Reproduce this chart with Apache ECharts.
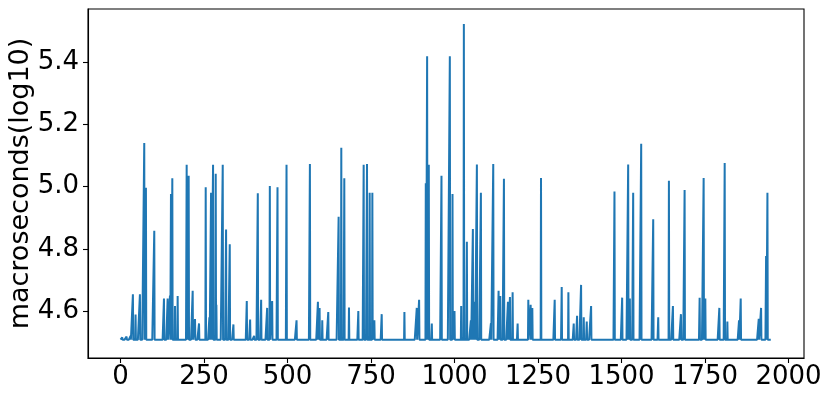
<!DOCTYPE html>
<html>
<head>
<meta charset="utf-8">
<script src="https://cdn.jsdelivr.net/npm/echarts@6/dist/echarts.min.js"></script>
<style>
  html, body { margin: 0; padding: 0; background: #fff; }
  #chart { width: 830px; height: 401px; }
</style>
</head>
<body>
<div id="chart"></div>
<script>
// sample count and flat level of the trace between spikes
var sampleCount = 1950;
var baseLevel = 4.508;

// spikes: sample index and value (log10)
var spikeX = [5, 18, 30, 37, 45, 58, 71, 76, 101, 130, 141, 148, 151, 155, 163, 171,
  198, 204, 216, 223, 235, 255, 266, 271, 277, 285, 287, 306, 316, 327, 338,
  378, 388, 400, 411, 421, 439, 447, 454, 470, 497, 527, 567, 591, 596, 604, 622,
  653, 661, 670, 684, 712, 728, 738, 746, 754, 760, 782, 850, 887, 894,
  914, 918, 923, 932, 961, 986, 994, 1000, 1020, 1028, 1037, 1049, 1055, 1061, 1067, 1079,
  1109, 1116, 1132, 1137, 1148, 1160, 1166, 1174, 1189, 1221, 1228, 1233, 1259,
  1300, 1321, 1341, 1357, 1367, 1379, 1387, 1396, 1409, 1479, 1502, 1520, 1525, 1535,
  1559, 1595, 1610, 1642, 1654, 1678, 1689, 1734, 1746, 1751, 1793, 1809, 1817,
  1852, 1857, 1911, 1918, 1933, 1937];
var spikeY = [4.515, 4.518, 4.52, 4.654, 4.589, 4.654, 5.14, 4.996, 4.858, 4.64, 4.64, 4.65, 4.976, 5.027, 4.616, 4.648,
  5.07, 5.035, 4.665, 4.574, 4.56, 4.998, 4.58, 4.98, 5.07, 5.041, 4.62, 5.07, 4.862, 4.815, 4.557,
  4.632, 4.573, 4.52, 4.979, 4.636, 4.61, 5.002, 4.632, 4.998, 5.07, 4.57, 5.073, 4.63, 4.61, 4.57, 4.597,
  4.903, 5.125, 5.027, 4.611, 4.6, 5.07, 5.073, 4.98, 4.98, 4.57, 4.59, 4.597, 4.61, 4.636,
  5.011, 5.419, 5.07, 4.56, 5.035, 5.419, 4.976, 4.6, 4.616, 5.523, 4.823, 4.57, 4.864, 4.63, 5.071, 4.98,
  4.56, 5.073, 4.665, 4.648, 5.025, 4.63, 4.645, 4.66, 4.56, 4.636, 4.62, 4.61, 5.028,
  4.636, 4.677, 4.66, 4.56, 4.585, 4.684, 4.58, 4.566, 4.616, 4.984, 4.643, 5.071, 4.64, 4.98,
  5.138, 4.895, 4.58, 5.019, 4.616, 4.59, 4.989, 4.643, 5.028, 4.64, 4.61, 5.076, 4.566,
  4.57, 4.64, 4.575, 4.61, 4.777, 4.98];

// axis ticks
var xTicks = [0, 250, 500, 750, 1000, 1250, 1500, 1750, 2000];
var yTicks = [4.6, 4.8, 5.0, 5.2, 5.4];

var spikeAt = {};
spikeX.forEach(function (x, i) { spikeAt[x] = spikeY[i]; });
var seriesData = [];
for (var i = 0; i < sampleCount; i++) {
  seriesData.push([i, spikeAt[i] !== undefined ? spikeAt[i] : baseLevel]);
}

var chart = echarts.init(document.getElementById('chart'), null, { renderer: 'canvas' });
var font = 'DejaVu Sans';
var option = {
  animation: false,
  grid: {
    left: 88, right: 26, top: 9, bottom: 43,
    containLabel: false,
    outerBoundsMode: 'none',
    show: true, borderColor: '#000', borderWidth: 1.1, backgroundColor: 'transparent'
  },
  xAxis: {
    type: 'value',
    min: -97.45,
    max: 2046.5,
    axisLine: { show: true, onZero: false, lineStyle: { color: '#000', width: 1.1 } },
    axisTick: { show: true, customValues: xTicks, length: 5, lineStyle: { color: '#000', width: 1.1 } },
    axisLabel: {
      customValues: xTicks, color: '#000', fontFamily: font, fontSize: 26, margin: 6,
      hideOverlap: false,
      formatter: function (v) { return String(v); }
    },
    splitLine: { show: false }
  },
  yAxis: {
    type: 'value',
    min: 4.449,
    max: 5.571,
    name: 'macroseconds(log10)',
    nameLocation: 'middle',
    nameRotate: 90,
    nameGap: 54,
    nameMoveOverlap: false,
    nameTextStyle: { color: '#000', fontFamily: font, fontSize: 27 },
    axisLine: { show: true, onZero: false, lineStyle: { color: '#000', width: 1.1 } },
    axisTick: { show: true, customValues: yTicks, length: 5, lineStyle: { color: '#000', width: 1.1 } },
    axisLabel: {
      customValues: yTicks, color: '#000', fontFamily: font, fontSize: 26, margin: 9,
      formatter: function (v) { return v.toFixed(1); }
    },
    splitLine: { show: false }
  },
  series: [{
    type: 'line',
    data: seriesData,
    showSymbol: false,
    symbol: 'none',
    lineStyle: { color: '#1f77b4', width: 2 },
    silent: true
  }]
};
chart.setOption(option);
</script>
</body>
</html>
